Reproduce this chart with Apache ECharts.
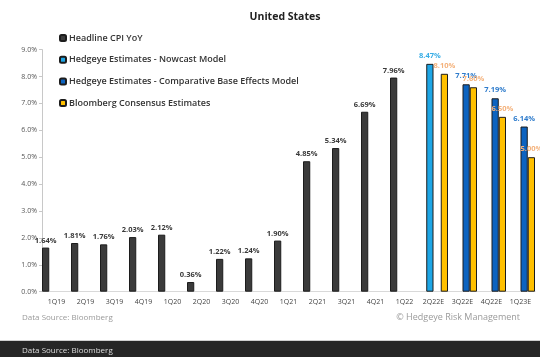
<!DOCTYPE html>
<html>
<head>
<meta charset="utf-8">
<title>United States</title>
<script src="https://cdn.jsdelivr.net/npm/echarts@6/dist/echarts.min.js"></script>
<style>
  html, body { margin: 0; padding: 0; background: #ffffff; }
  #chart { width: 540px; height: 357px; }
</style>
</head>
<body>
<div id="chart"></div>
<script>
// Quarterly US CPI YoY (%) with forward estimates
var categories = ['1Q19', '2Q19', '3Q19', '4Q19', '1Q20', '2Q20', '3Q20', '4Q20',
  '1Q21', '2Q21', '3Q21', '4Q21', '1Q22', '2Q22E', '3Q22E', '4Q22E', '1Q23E'];

var headlineCpi = [1.64, 1.81, 1.76, 2.03, 2.12, 0.36, 1.22, 1.24,
  1.90, 4.85, 5.34, 6.69, 7.96, null, null, null, null];

var nowcastModel = [null, null, null, null, null, null, null, null,
  null, null, null, null, null, 8.47, null, null, null];

var baseEffectsModel = [null, null, null, null, null, null, null, null,
  null, null, null, null, null, null, 7.71, 7.19, 6.14];

var bloombergConsensus = [null, null, null, null, null, null, null, null,
  null, null, null, null, null, 8.10, 7.60, 6.50, 5.00];

var yTicks = [0, 1, 2, 3, 4, 5, 6, 7, 8, 9];

var FONT = '"Open Sans", Lato, sans-serif';

function makeSeries(name, data, fill, labelColor, labelDist) {
  return {
    name: name,
    type: 'bar',
    data: data,
    barGap: '0%',
    barCategoryGap: '0%',
    itemStyle: { color: fill, borderColor: '#1c1c1c', borderWidth: 1 },
    label: {
      show: true,
      position: 'top',
      distance: labelDist,
      color: labelColor,
      fontFamily: FONT,
      fontSize: 7.5,
      fontWeight: 'bold',
      formatter: function (p) { return p.value.toFixed(2) + '%'; }
    },
    emphasis: { disabled: true },
    animation: false
  };
}

var chart = echarts.init(document.getElementById('chart'), null, { renderer: 'canvas' });

chart.setOption({
  backgroundColor: '#ffffff',
  animation: false,
  title: {
    text: 'United States',
    left: 280,
    textAlign: 'center',
    top: 7,
    textStyle: { fontFamily: FONT, fontSize: 10.5, fontWeight: 'bold', color: '#222222' }
  },
  legend: {
    orient: 'vertical',
    left: 54,
    top: 28,
    itemWidth: 6,
    itemHeight: 6,
    itemGap: 11.7,
    selectedMode: false,
    textStyle: { fontFamily: FONT, fontSize: 9, fontWeight: 600, color: '#333333', lineHeight: 10, padding: [0, 0, 0, -2] },
    data: ['Headline CPI YoY', 'Hedgeye Estimates - Nowcast Model',
      'Hedgeye Estimates - Comparative Base Effects Model', 'Bloomberg Consensus Estimates']
  },
  grid: { left: 42, right: 5, top: 49.6, bottom: 65.3, containLabel: false },
  xAxis: {
    type: 'category',
    data: categories,
    axisLine: { show: true, lineStyle: { color: '#d9d9d9', width: 1 } },
    axisTick: { show: false },
    axisLabel: { fontFamily: FONT, fontSize: 7, color: '#444444', margin: 7, interval: 0 }
  },
  yAxis: {
    type: 'value',
    min: yTicks[0],
    max: yTicks[yTicks.length - 1],
    interval: 1,
    axisLine: { show: true, lineStyle: { color: '#c8c8c8', width: 1 } },
    axisTick: { show: true, length: 3, lineStyle: { color: '#c8c8c8' } },
    splitLine: { show: false },
    axisLabel: {
      fontFamily: FONT, fontSize: 7, color: '#555555', margin: 5,
      formatter: function (v) { return v.toFixed(1) + '%'; }
    }
  },
  series: [
    makeSeries('Headline CPI YoY', headlineCpi, '#3b3b3b', '#3a3a3a', 3),
    makeSeries('Hedgeye Estimates - Nowcast Model', nowcastModel, '#1ea6e6', '#3aaee6', 4),
    makeSeries('Hedgeye Estimates - Comparative Base Effects Model', baseEffectsModel, '#0c63c0', '#2f7ccc', 4),
    makeSeries('Bloomberg Consensus Estimates', bloombergConsensus, '#ffc000', '#f4b27c', 4)
  ],
  graphic: [
    {
      type: 'text', left: 22, top: 314,
      style: { text: 'Data Source: Bloomberg', fill: '#9a9a9a', font: '8px ' + FONT }
    },
    {
      type: 'text', right: 20, top: 313,
      style: { text: '\u00A9 Hedgeye Risk Management', fill: '#9a9a9a', font: '9px ' + FONT }
    },
    {
      type: 'rect', left: 0, top: 340, shape: { width: 540, height: 1 },
      style: { fill: '#cfcfcf' }
    },
    {
      type: 'rect', left: 0, top: 341, shape: { width: 540, height: 16 },
      style: { fill: '#262626' }
    },
    {
      type: 'text', left: 22, top: 347,
      style: { text: 'Data Source: Bloomberg', fill: '#dddddd', font: '8px ' + FONT }
    }
  ]
});
</script>
</body>
</html>
